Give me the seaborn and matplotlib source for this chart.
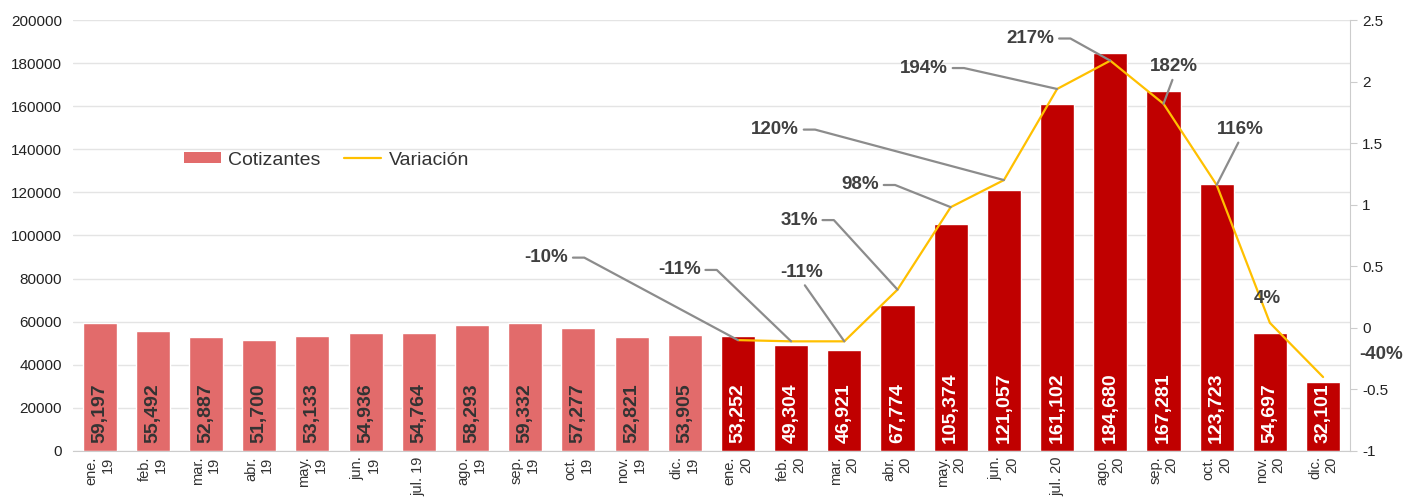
import numpy as np
import pandas as pd
import matplotlib
matplotlib.use("Agg")
import matplotlib.pyplot as plt
import seaborn as sns
from matplotlib.patches import Patch
from matplotlib.lines import Line2D
from matplotlib.ticker import FuncFormatter

# === Datos ===
meses = ["ene.\n19", "feb.\n19", "mar.\n19", "abr.\n19", "may.\n19", "jun.\n19",
         "jul. 19", "ago.\n19", "sep.\n19", "oct.\n19", "nov.\n19", "dic.\n19",
         "ene.\n20", "feb.\n20", "mar.\n20", "abr.\n20", "may.\n20", "jun.\n20",
         "jul. 20", "ago.\n20", "sep.\n20", "oct.\n20", "nov.\n20", "dic.\n20"]
anio = ["2019"] * 12 + ["2020"] * 12
cotizantes = [59197, 55492, 52887, 51700, 53133, 54936, 54764, 58293, 59332, 57277, 52821, 53905,
              53252, 49304, 46921, 67774, 105374, 121057, 161102, 184680, 167281, 123723, 54697, 32101]
variacion = [-0.10, -0.11, -0.11, 0.31, 0.98, 1.20, 1.94, 2.17, 1.82, 1.16, 0.04, -0.40]
etiquetas_var = ["-10%", "-11%", "-11%", "31%", "98%", "120%", "194%", "217%", "182%", "116%", "4%", "-40%"]

df = pd.DataFrame({"mes": meses, "anio": anio, "cotizantes": cotizantes})
df_var = pd.DataFrame({"pos": np.arange(12, 24), "variacion": variacion})

c19 = "#E26B6B"
c20 = "#C00000"
c_line = "#FFC000"

sns.set_style("white")
plt.rcParams["font.family"] = ["Liberation Sans", "DejaVu Sans"]

fig, ax = plt.subplots(figsize=(14.03, 5.01), dpi=100)
fig.subplots_adjust(left=0.052, right=0.962, top=0.96, bottom=0.1)

sns.barplot(data=df, x="mes", y="cotizantes", hue="anio", palette={"2019": c19, "2020": c20},
            dodge=False, width=0.64, legend=False, ax=ax, saturation=1)
ax.set_xlim(-0.5, 23.5)
ax.set_ylim(0, 200000)
ax.set_yticks(range(0, 200001, 20000))
ax.yaxis.grid(True, color="#e4e4e4", linewidth=1)
ax.set_axisbelow(True)
ax.set_xlabel("")
ax.set_ylabel("")
ax.tick_params(axis="y", labelsize=11, colors="#222222", length=0, pad=8)
ax.tick_params(axis="x", labelsize=10.5, colors="#333333", length=0, pad=4)
plt.setp(ax.get_xticklabels(), rotation=90, ha="center", va="top", ma="right")
for s in ["top", "right", "left"]:
    ax.spines[s].set_visible(False)
ax.spines["bottom"].set_color("#cccccc")

# etiquetas dentro de las barras
for i, v in enumerate(cotizantes):
    col = "#333333" if i < 12 else "white"
    ax.text(i, 3500, f"{v:,}", rotation=90, ha="center", va="bottom",
            fontsize=14, fontweight="bold", color=col)

# === Linea de variacion (eje derecho) ===
ax2 = ax.twinx()
sns.lineplot(data=df_var, x="pos", y="variacion", color=c_line, linewidth=1.6, ax=ax2)
ax2.set_ylim(-1, 2.5)
ax2.set_yticks(np.arange(-1, 2.51, 0.5))
ax2.yaxis.set_major_formatter(FuncFormatter(lambda v, p: f"{v:g}"))
ax2.tick_params(axis="y", labelsize=11, colors="#222222", length=5, color="#cccccc", pad=4)
ax2.set_ylabel("")
ax2.set_xlabel("")
for s in ["top", "left", "bottom"]:
    ax2.spines[s].set_visible(False)
ax2.spines["right"].set_color("#cccccc")
ax2.set_xlim(-0.5, 23.5)

# posiciones de texto de las etiquetas (en coordenadas de datos)
txt_pos = [(8.4, 0.57), (10.9, 0.47), (13.2, 0.45), (13.15, 0.875), (14.3, 1.16), (12.7, 1.61),
           (15.5, 2.11), (17.5, 2.35), (20.2, 2.12), (21.45, 1.61), (21.96, 0.24), (24.1, -0.22)]
relpos = [(1, 0.5), (1, 0.5), (0.5, 0), (1, 0.5), (1, 0.5), (1, 0.5),
          (1, 0.5), (1, 0.5), (0.5, 0), (0.5, 0), None, None]
for k in range(12):
    props = None
    if relpos[k] is not None:
        props = dict(arrowstyle="-", color="#8c8c8c", linewidth=1.6, relpos=relpos[k],
                     shrinkA=1, shrinkB=0)
        if relpos[k] == (1, 0.5):
            props["connectionstyle"] = "arc,angleA=0,armA=16,angleB=0,armB=0,rad=0"
    ax2.annotate(etiquetas_var[k], xy=(12 + k, variacion[k]), xytext=txt_pos[k],
                 ha="center", va="center", fontsize=13.5, fontweight="bold", color="#404040",
                 arrowprops=props, annotation_clip=False)

# leyenda
handles = [Patch(facecolor=c19, edgecolor="none"), Line2D([], [], color=c_line, linewidth=1.6)]
ax.legend(handles, ["Cotizantes", "Variación"], loc="center left", bbox_to_anchor=(0.073, 0.675),
          ncol=2, frameon=False, fontsize=14, handlelength=1.9, handleheight=0.5,
          handletextpad=0.4, columnspacing=1.2, labelcolor="#333333")

plt.savefig("out.png", dpi=100)
